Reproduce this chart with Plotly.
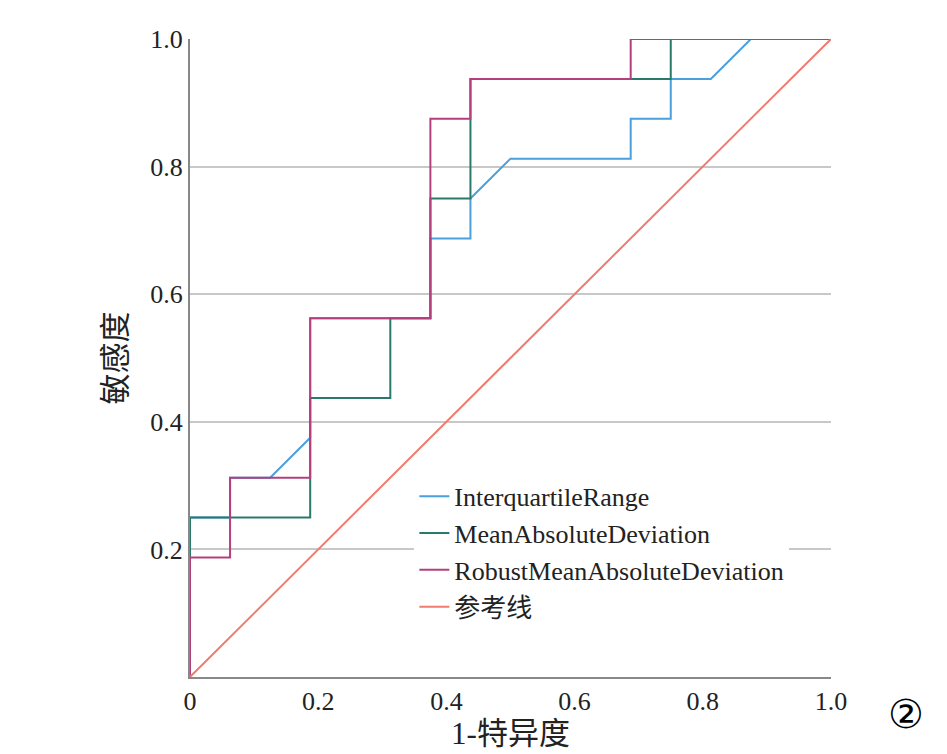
import plotly.graph_objects as go

# ROC curve points (1-specificity, sensitivity)
iqr_x = [0, 0, 0.0625, 0.0625, 0.125, 0.1875, 0.1875, 0.375, 0.375, 0.4375, 0.4375, 0.5, 0.6875, 0.6875, 0.75, 0.75, 0.8125, 0.875, 1]
iqr_y = [0, 0.25, 0.25, 0.3125, 0.3125, 0.375, 0.5625, 0.5625, 0.6875, 0.6875, 0.75, 0.8125, 0.8125, 0.875, 0.875, 0.9375, 0.9375, 1, 1]
mad_x = [0, 0, 0.1875, 0.1875, 0.3125, 0.3125, 0.375, 0.375, 0.4375, 0.4375, 0.75, 0.75, 1]
mad_y = [0, 0.25, 0.25, 0.4375, 0.4375, 0.5625, 0.5625, 0.75, 0.75, 0.9375, 0.9375, 1, 1]
rmad_x = [0, 0, 0.0625, 0.0625, 0.1875, 0.1875, 0.375, 0.375, 0.4375, 0.4375, 0.6875, 0.6875, 1]
rmad_y = [0, 0.1875, 0.1875, 0.3125, 0.3125, 0.5625, 0.5625, 0.875, 0.875, 0.9375, 0.9375, 1, 1]
ref_x = [0, 1]
ref_y = [0, 1]

FONT = "Liberation Serif, Times New Roman, Noto Sans CJK SC, serif"

fig = go.Figure()
for name, xs, ys, color in [
    ("InterquartileRange", iqr_x, iqr_y, "#4a9fdc"),
    ("MeanAbsoluteDeviation", mad_x, mad_y, "#2a7a6c"),
    ("RobustMeanAbsoluteDeviation", rmad_x, rmad_y, "#b3407c"),
    ("参考线", ref_x, ref_y, "#f07c70"),
]:
    fig.add_trace(go.Scatter(x=xs, y=ys, mode="lines", name=name,
                             line=dict(color=color, width=2)))

fig.add_annotation(text="②", x=1.0, y=0, xref="paper", yref="paper",
                   xshift=95, yshift=-62, showarrow=False,
                   font=dict(size=40, color="black", family="DejaVu Sans"))

fig.update_layout(
    width=947, height=754,
    margin=dict(l=182, r=124, t=31, b=85, autoexpand=False),
    plot_bgcolor="white", paper_bgcolor="white",
    font=dict(family=FONT, size=26, color="#222"),
    showlegend=True,
    legend=dict(x=0.35, y=0.32, xanchor="left", yanchor="top",
                bgcolor="white", font=dict(size=26, family=FONT),
                tracegroupgap=0, itemwidth=30),
    xaxis=dict(range=[0, 1], tickvals=[0, 0.2, 0.4, 0.6, 0.8, 1.0],
               ticktext=["0", "0.2", "0.4", "0.6", "0.8", "1.0"],
               showgrid=False, zeroline=False, showline=True,
               linecolor="#888", linewidth=2, automargin=False,
               title=dict(text="1-特异度", standoff=4)),
    yaxis=dict(range=[0, 1], tickvals=[0.2, 0.4, 0.6, 0.8, 1.0],
               ticktext=["0.2", "0.4", "0.6", "0.8", "1.0"],
               showgrid=True, gridcolor="#c8c8c8", gridwidth=1.5,
               zeroline=False, showline=True, linecolor="#888", linewidth=2,
               ticks="", automargin=False,
               title=dict(text="敏感度", standoff=14)),
)

fig.write_html("out.html")
